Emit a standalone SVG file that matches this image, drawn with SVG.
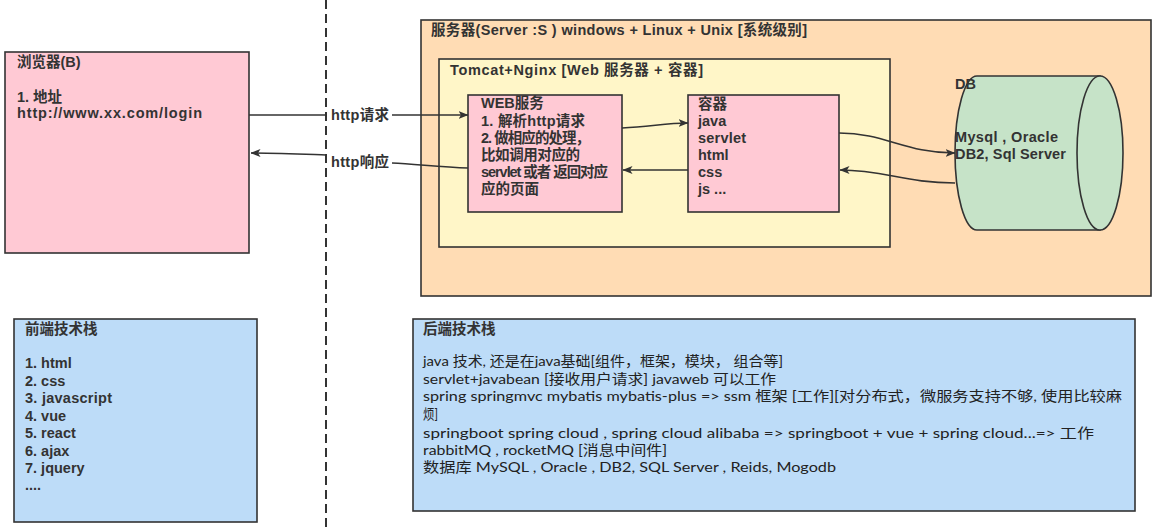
<svg xmlns="http://www.w3.org/2000/svg" width="1162" height="527" viewBox="0 0 1162 527">
<style>
.box{stroke:#333;stroke-width:1.6}
.t{font-family:"Liberation Sans","Noto Sans CJK SC",sans-serif;font-size:14.5px;font-weight:bold;fill:#333}
.b{font-family:"Lato","Noto Sans CJK SC",sans-serif;font-size:14px;font-weight:normal;fill:#222}
.c{fill:none;stroke:#333;stroke-width:1.6}
</style>
<defs>
<marker id="ah" viewBox="0 0 10 8" refX="9.5" refY="4" markerWidth="10" markerHeight="8" markerUnits="userSpaceOnUse" orient="auto">
<path d="M0,0 L10,4 L0,8 L2.5,4 Z" fill="#333"/>
</marker>
</defs>
<rect width="1162" height="527" fill="#fff"/>
<line x1="326" y1="0" x2="326" y2="527" stroke="#333" stroke-width="2" stroke-dasharray="9,5"/>

<g id="browser">
<rect class="box" x="5" y="52" width="244" height="201" fill="#ffc9d4"/>
<text class="t" x="17" y="67">浏览器(B)</text>
<text class="t" x="17" y="102">1. 地址</text>
<text class="t" x="17" y="118" textLength="185">http://www.xx.com/login</text>
</g>

<g id="server">
<rect class="box" x="421" y="20" width="730" height="276" fill="#ffdcb4"/>
<text class="t" x="431" y="35" textLength="376">服务器(Server :S ) windows + Linux + Unix [系统级别]</text>
</g>

<g id="tomcat">
<rect class="box" x="439" y="59" width="451" height="188" fill="#fff6c8"/>
<text class="t" x="450" y="75" textLength="253">Tomcat+Nginx [Web 服务器 + 容器]</text>
</g>

<g id="web">
<rect class="box" x="468" y="95" width="154" height="117" fill="#ffc9d4"/>
<text class="t" x="481" y="108">WEB服务</text>
<text class="t" x="481" y="126" textLength="104">1. 解析http请求</text>
<text class="t" x="481" y="143" textLength="109">2. 做相应的处理，</text>
<text class="t" x="481" y="160" textLength="99">比如调用对应的</text>
<text class="t" x="481" y="177" textLength="127">servlet 或者 返回对应</text>
<text class="t" x="481" y="194">应的页面</text>
</g>

<g id="container">
<rect class="box" x="688" y="95" width="151" height="117" fill="#ffc9d4"/>
<text class="t" x="698" y="109">容器</text>
<text class="t" x="698" y="126">java</text>
<text class="t" x="698" y="143" textLength="48">servlet</text>
<text class="t" x="698" y="160">html</text>
<text class="t" x="698" y="177">css</text>
<text class="t" x="698" y="194">js ...</text>
</g>

<g id="db">
<path class="box" d="M977,76 L1100,76 L1100,230 L977,230 A22,77 0 0 1 977,76 Z" fill="#c6e3c8"/>
<ellipse class="box" cx="1100" cy="153" rx="23" ry="77" fill="#c6e3c8"/>
<text class="t" x="955" y="89">DB</text>
<text class="t" x="955" y="142" textLength="103">Mysql , Oracle</text>
<text class="t" x="955" y="159" textLength="111">DB2, Sql Server</text>
</g>

<g id="frontend">
<rect class="box" x="14" y="319" width="243" height="203" fill="#bddcf8"/>
<text class="t" x="25" y="334">前端技术栈</text>
<text class="t" x="25" y="368">1. html</text>
<text class="t" x="25" y="385.5">2. css</text>
<text class="t" x="25" y="403" textLength="87">3. javascript</text>
<text class="t" x="25" y="420.5">4. vue</text>
<text class="t" x="25" y="438">5. react</text>
<text class="t" x="25" y="455.5">6. ajax</text>
<text class="t" x="25" y="473">7. jquery</text>
<text class="t" x="25" y="490">....</text>
</g>

<g id="backend">
<rect class="box" x="413" y="319" width="722" height="192" fill="#bddcf8"/>
<text class="t" x="423" y="334">后端技术栈</text>
<text class="b" x="423" y="366" textLength="360" lengthAdjust="spacingAndGlyphs">java 技术, 还是在java基础[组件，框架，模块， 组合等]</text>
<text class="b" x="423" y="384" textLength="353" lengthAdjust="spacingAndGlyphs">servlet+javabean [接收用户请求] javaweb 可以工作</text>
<text class="b" x="423" y="401" textLength="699" lengthAdjust="spacingAndGlyphs">spring springmvc  mybatis mybatis-plus =&gt; ssm 框架 [工作][对分布式，微服务支持不够, 使用比较麻</text>
<text class="b" x="423" y="419" textLength="15" lengthAdjust="spacingAndGlyphs">烦]</text>
<text class="b" x="423" y="438" textLength="671" lengthAdjust="spacingAndGlyphs">springboot spring cloud , spring cloud alibaba =&gt; springboot + vue + spring cloud...=&gt; 工作</text>
<text class="b" x="423" y="455" textLength="244" lengthAdjust="spacingAndGlyphs">rabbitMQ , rocketMQ [消息中间件]</text>
<text class="b" x="423" y="472" textLength="413" lengthAdjust="spacingAndGlyphs">数据库 MySQL , Oracle , DB2, SQL Server , Reids, Mogodb</text>
</g>

<g id="connectors">
<path class="c" d="M249,115 L326,115"/>
<path class="c" d="M392,115 L468,115" marker-end="url(#ah)"/>
<text class="t" x="331" y="120" textLength="58">http请求</text>
<path class="c" d="M468,168 C440,167 415,164 392,163"/>
<path class="c" d="M326,155 C300,154 280,153 251,153" marker-end="url(#ah)"/>
<text class="t" x="331" y="167" textLength="58">http响应</text>
<path class="c" d="M622,128 C650,127 665,123 688,123" marker-end="url(#ah)"/>
<path class="c" d="M688,170 L623,170" marker-end="url(#ah)"/>
<path class="c" d="M839,133 C885,133 905,153 955,153" marker-end="url(#ah)"/>
<path class="c" d="M955,183 C905,183 885,170 840,170" marker-end="url(#ah)"/>
</g>
</svg>
